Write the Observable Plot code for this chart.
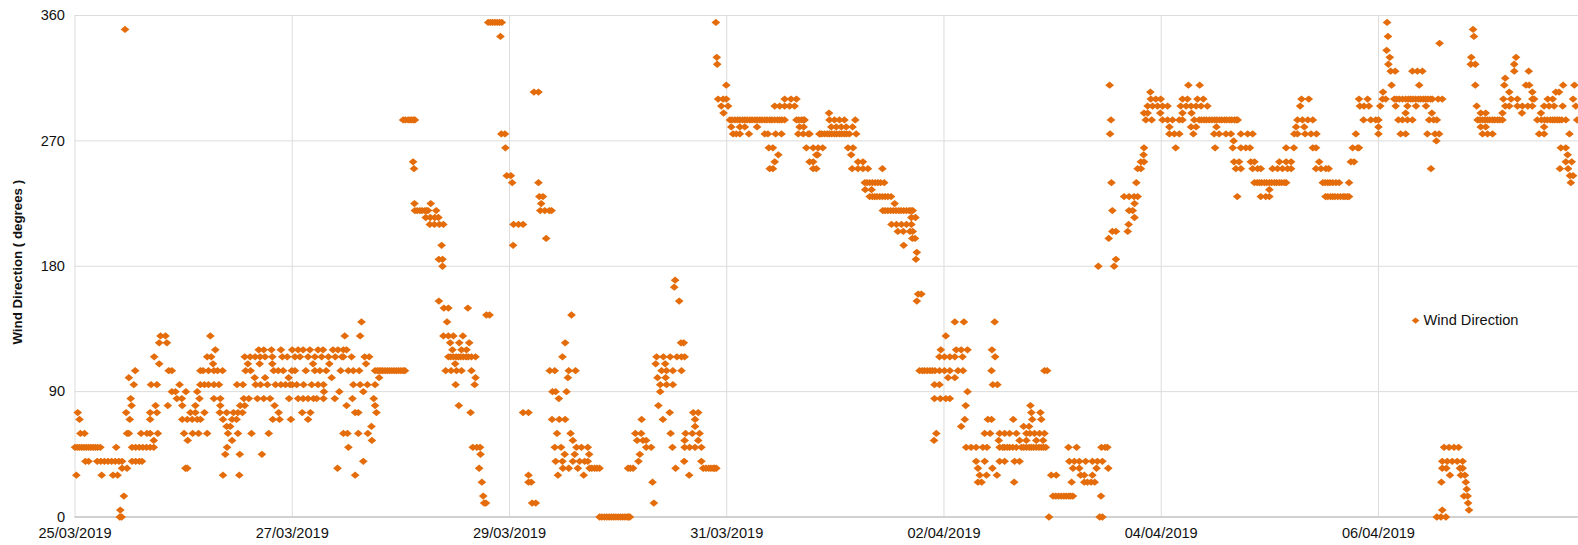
<!DOCTYPE html>
<html>
<head>
<meta charset="utf-8">
<script src="https://cdn.jsdelivr.net/npm/d3@7"></script>
<script src="https://cdn.jsdelivr.net/npm/@observablehq/plot@0.6"></script>
<style>html,body{margin:0;padding:0;background:#fff}svg{display:block}</style>
</head>
<body>
<div id="chart"></div>
<script>
// Each row: [wind direction in degrees, [hours since 25/03/2019 00:00]]
const periodA = [
[350,[11.05]],
[130,[18.9,20,29.9]],
[125,[18.6,20.3]],
[120,[31,40.6,41.7,43.4,45.5]],
[115,[17.5,29.2,30.1,37.5,38.7,39.8,40.9,42,43.6,45.8,46.9]],
[110,[18.6,30.5,38.2,40.8,43.6]],
[105,[13.3,20.7,21.4,27.7,28.3,29.5,30.7,31.5,32.6,37.7,38.8,43.9,44.9,46,47.9]],
[100,[11.9,39.7,42,47.2]],
[95,[13,16.8,18.1,23.1,27.7,28.6,29.5,30.7,31.8,35.8,37.1,39.9,41,42.5,44.3,45.5,46.5,47.5]],
[90,[21.4,22.2,24.5,27]],
[85,[12.3,22.5,23.6,27.5,30.7,32.1,37.3,38.4,40.3,41.7,43.1,47.3]],
[80,[12.5,17.8,20.5,23.7,26.6,32.1,36.5,37.5,44.1]],
[75,[0.6,11.3,16.6,18.1,25.5,26.6,28.6,32,33.5,35,36,37,45]],
[70,[1,12.1,16.6,23.7,24.8,25.9,27,27.7,32.7,34.7,35.7,43.7,45.2,47.7]],
[65,[33.5,34.3]],
[60,[1.2,2.1,11.5,11.9,14.6,15.9,16.6,18.3,24.1,26,27.3,29.2,33.8,36,39,42.8]],
[55,[17.4,24.9,34.7]],
[50,[0,0.5,1,1.5,2,2.5,3,3.5,4,4.5,5,5.6,9.1,12.6,13.4,14.2,15,15.8,16.6,17.4,33.6]],
[45,[33.2,36.4,41.3]],
[40,[2.3,3,4.9,5.7,6.5,7.3,8.1,8.9,9.7,10.4,12.6,13.4,14.2,14.8]],
[35,[10.4,11.5,24.4,24.8]],
[30,[0.3,5.9,8.4,9.4,32.7,36.3]],
[15,[10.8]],
[5,[10]],
[0,[9.9,10.3]]
];
const periodB = [
[355,[91.3,92.3,93.3,94.3]],
[345,[94]],
[305,[101.4,102.4]],
[285,[72.5,73.6,74.4,75.1]],
[275,[94.2,95]],
[265,[95.1]],
[255,[74.7]],
[250,[74.9]],
[245,[95.4,96.3]],
[240,[96.6,102.4]],
[230,[102.6,103.4]],
[225,[75,78.6,103]],
[220,[75.1,76.2,77.3,78,79.8,102.8,103.8,104.8,105.3]],
[215,[77.5,78.5,79.5,80.3]],
[210,[78.4,79.4,80.5,81.4,96.9,98,99]],
[200,[104.1]],
[195,[81,96.8]],
[185,[80.4,81.2]],
[180,[81.2]],
[155,[80.4]],
[150,[81.5,82.5,86.8]],
[145,[90.9,91.6]],
[140,[63.3,82.2]],
[130,[59.6,63,81.4,82.5,83.6,85.7]],
[125,[82.9,84.9,87.1]],
[120,[48,49.3,50.4,51.9,53.7,54.8,57,58.1,59.3,60,83.4,85.4,86.5]],
[115,[48.6,49.7,51.5,53,54.5,56,57.5,59,59.3,61.1,64,65,82.5,83.6,84.7,85.8,86.9,88.5]],
[110,[52.6,56.2,64.3,84]],
[105,[48.6,51,53,54.1,55.5,58.7,60.4,61.5,62.8,66.3,67.2,68,69,70,71,72,72.9,81.9,83.1,84.3,85.4,87.6]],
[100,[56.7,67.2,88.5]],
[95,[48,49,50.5,52.3,53.7,54.9,61.5,63,64.6,66.3,84.1,88.3]],
[90,[55,58.4,63.7]],
[85,[49.3,50.4,51.5,52.7,53.4,54.9,57.4,61.3,66]],
[80,[60,66.3,84.8]],
[75,[50.2,52,61.9,62.6,66.6,87.4,99,100.2]],
[70,[51.5]],
[65,[65.5]],
[60,[59.3,60.2,62.6,64.7]],
[55,[65.6]],
[50,[60.4,87.9,88.8,89.5]],
[45,[89.6]],
[40,[63.7]],
[35,[58,89.3]],
[30,[61.9,100.2]],
[25,[89.9,100.2,100.8]],
[15,[90.2]],
[10,[90.4,90.8,101,101.8]]
];
const periodC = [
[355,[141.6]],
[330,[141.8]],
[325,[141.9]],
[310,[143.9]],
[300,[142.1,143.2,143.9,156.8,158.2,159.4]],
[295,[142.8,144.3,154.6,155.7,156.8,157.9,159]],
[290,[143.3]],
[285,[144.7,145.8,146.9,148,149.1,150.2,151.3,152.4,153.5,154.6,155.7,156.8,159.4,160.5,161.2]],
[280,[145,146.9,148,150.7,160.1]],
[275,[145.4,146.1,146.9,148.9,152.4,153.1,154.8,156.1,159.8,160.9,162,164.6]],
[265,[153.3,154.2,161.6,163.1,164.2]],
[260,[155.4,163.8]],
[255,[154.6,162.3,163.1]],
[250,[153.5,154.2,163.1,163.8]],
[170,[132.6]],
[165,[132.4]],
[155,[133.5]],
[145,[109.7]],
[125,[108.3,133.9,134.5]],
[115,[107.7,128.5,130,131.5,133,134,134.7]],
[110,[128.3,130.4]],
[105,[104.9,106,109.1,110.6,129.6,130.7,132.1,134]],
[100,[108.9,128.7,130.5]],
[95,[129.3,130.7,132.1]],
[90,[105.5,106.2,108.6,129.3]],
[85,[106.9]],
[80,[128.9]],
[75,[131.4,136.6,137.7]],
[70,[105.4,107,108.3,125.2,129.9,137]],
[65,[137]],
[60,[106.5,109.5,123.8,125.1,131.6,134.9,136.4,138]],
[55,[110,124.2,125.5,126.2,134.7,137.7]],
[50,[106,107.4,110.8,111.9,113.3,126.2,127.3,132,134.7,135.8,137,138.4]],
[45,[108.2,110.4,113.6,124.8]],
[40,[106.2,107.7,110,111.5,112.6,113.3,124.5,134.6,138.4]],
[35,[107.8,109.1,111.1,113.7,114.8,115.9,122.2,123.3,132.7,138.8,140,141,141.7]],
[30,[106.7,112.4,135.7]],
[25,[127.6]],
[10,[127.9]],
[0,[115.9,117,118,119,120,121,122,122.6]]
];
const periodD = [
[290,[166.6]],
[285,[166.7,167.8,168.9,170,172.4]],
[280,[161,167.1,168.2,169.3,170.4,171.8]],
[275,[162.3,164.5,165.6,166.7,167.8,168.9,170,171.1,172.6]],
[265,[165.2,170.8,171.9]],
[260,[164.1,171.5]],
[255,[173,174.1]],
[250,[171.7,173,174.1,175.2,178.4]],
[240,[174.5,175.6,176.8,178,178.8]],
[235,[174.6,176]],
[230,[175.6,176.7,177.8,179,180.3]],
[225,[181.1]],
[220,[178.5,179.6,180.8,182,183.1,184.3,185.1]],
[215,[184.8,185.7]],
[210,[180.4,181.5,182.6,183.7,184.8]],
[205,[181.8,183,184.5,185.1]],
[200,[185,185.6]],
[195,[183.1]],
[190,[186]],
[185,[185.8]],
[160,[186.3,187]],
[155,[186]],
[140,[194.4,196.4,203.2]],
[130,[192.4]],
[120,[191.3,194.7,195.8,197.2,202.6]],
[115,[191,192.1,193.3,194.4,196.1,203.3]],
[105,[186.6,187.7,188.9,190,191,192.1,193.3,195.1,196.2,202.5,214.2,214.8]],
[100,[192.9,194.4]],
[95,[189.9,191,202.8,203.8]],
[90,[197.2]],
[85,[189.9,191.2,192.4,193.3]],
[80,[196.8,211.1]],
[75,[211.3,213.3]],
[70,[196.6,201.7,202.5,207.3,211.5,213.5]],
[65,[195.8,209.6,210.8]],
[60,[190.3,201,202.2,204.3,205.4,206.5,208,210.2,211,212,213.1,214.2]],
[55,[189.8,204.1,208.7,210.2,212.4,213.9]],
[50,[196.9,198,199.1,200.6,201.5,204.3,205.4,206.5,208,209.1,210.2,211.3,212.4,213.5,214.5]],
[40,[199.1,201,204.3,205.4,207.6,208.7]],
[35,[199.5,202.7]],
[30,[199.9,201.4,203.7,215.7,216.8]],
[25,[199.5,200.3,207.5]],
[15,[216.1,217.3,218.5,219.6,220.5]],
[0,[215.2]]
];
const periodE = [
[310,[228.6,246,248.5]],
[305,[237.6]],
[300,[237.7,238.8,239.9,244.7,245.8,248,249.3,271,272.6]],
[295,[237,238.1,239.2,240.3,241.4,244.3,245.5,246.6,247.7,248.8,250.2,270.7]],
[290,[236.2,237,239.8,244.7,246.7]],
[285,[228.9,236.6,237.9,240.3,241.4,242.5,244,244.7,247.3,248.4,249.5,250.6,251.8,252.9,254,255.1,256.2,256.9,270.1,271.2,272.4,273.5]],
[280,[241.8,246.6,247.7,252.2,269.8,271.6]],
[275,[228.7,241.8,242.9,244,247.1,251.7,252.8,254.3,255.4,257.6,259.1,260.2,269.4,270.1,271.8,273.1,274.3]],
[270,[256]],
[265,[236.2,243.2,251.9,255.8,257.6,258.7,259.6,267.6,269.3,273.5,274.2]],
[260,[236.1]],
[255,[235.5,236.2,256.1,257.2,259.8,260.6,266.1,267.6,268.7,274.9]],
[250,[234.8,235.5,256.5,257.6,260.2,261.3,262,264.6,265.7,266.8,267.9,268.7,274.2,275.3,276.4,277]],
[240,[229,234.5,260.6,261.7,262.8,263.9,265,266.1,267.2,267.6,275.7,276.8,277.9,279.3,281.5]],
[235,[263.9]],
[230,[231.8,232.9,234,234.8,256.8,262,263.1,263.9,276.8,277.9,279,280.2,281.1,281.5]],
[225,[234.1]],
[220,[229.2,232.9,233.7]],
[215,[234.1]],
[210,[232.8]],
[205,[229.2,230,232.6]],
[200,[228.4]],
[185,[230]],
[180,[226.1,229.6]],
[50,[219.5,221.3,226.8,227.6,228.1]],
[40,[219.7,220.8,221.9,223.3,224.8,225.9,227]],
[35,[220.5,221.9,225.7,228.3]],
[30,[222.2,223,224.8]],
[25,[220.2,223,223.7,224.5,225.3]],
[15,[226.7]],
[0,[226.4,227]]
];
const periodF = [
[355,[289.9]],
[350,[308.9]],
[345,[290.1,309.1]],
[340,[301.5]],
[335,[289.8]],
[330,[290.5,308.5,318.4]],
[325,[290.2,308.4,309.4,318]],
[320,[290.7,291.7,295.5,296.6,297.7,318,321.2]],
[315,[316]],
[310,[290.9,297,309.4,315.8,320.6,321.3,328.8,331.3]],
[305,[289,316.9,322,327.2,327.9]],
[300,[283.7,285.6,288.9,289.6,291.5,292.6,294,295.1,296.2,297.3,298.4,299.5,299.9,301.2,302.1,315.6,317.3,318.7,322,322.4,325.4,326.5,331]],
[295,[283.9,284.8,285.9,288.4,291.8,294.4,296.3,298.5,309.7,316,316.9,318.7,319.8,321,322,324.6,325.7,326.8,328.7,331.6]],
[290,[294,299.8,310.6,311.7,315.4,319.7,323.9]],
[285,[284.7,286.3,287.4,288,292.4,293.3,294.4,295.5,299.2,300.2,300.9,309.9,311,312.1,313.2,314.3,315.4,323.1,324.7,326,327,328,329.4,331.9]],
[280,[288,310.6,311.7,324.6]],
[275,[283,288,292.9,294,298.8,300.5,301.4,311,312.1,313.2,323.5,324.6,330.2]],
[270,[300.8]],
[265,[282.3,283.4,283.7,328.3,329.4]],
[260,[329.8]],
[255,[281.9,282.6,329.4,330.7]],
[250,[299.6,328.1,329.9]],
[245,[330.3,331]],
[240,[330.5]],
[50,[302.5,303.6,304.7,305.7]],
[40,[302.1,303.2,304.3,305.4,306.6]],
[35,[302.1,303,306,306.6]],
[30,[303.8,306.2,307.1]],
[25,[301.9,307.3]],
[20,[307.5]],
[15,[306.9,307.7]],
[10,[307.8]],
[5,[302.1,308]],
[0,[300.9,301.8,302.9]]
];
// Extra readings inside the stretches that read as solid bands
const solidBands = [
[355,[91.8,92.8,93.8]],
[285,[73,74,74.8,145.2,146.4,147.5,148.5,149.6,150.7,151.8,152.9,154,155.2,156.2,159.9,160.9,248.9,250,251.2,252.3,253.4,254.5,255.6,256.6,310.4,311.5,312.6,313.7,314.8,324,325.3,326.5,327.5,328.5]],
[300,[292,293.3,294.6,295.6,296.8,297.9,298.9]],
[275,[165,166.2,167.2,168.3,169.4,170.5]],
[240,[175,176.2,177.4,261.2,262.2,263.3,264.4,265.5,266.6,276.2,277.3,278.6]],
[230,[176.2,177.2,178.4,179.6,276.3,277.4,278.4,279.6,280.6]],
[220,[75.6,76.7,77.7,179,180.2,181.4,182.5,183.7,184.7]],
[115,[83,84.2,85.2,86.4,87.6]],
[105,[66.8,67.6,68.5,69.5,70.5,71.5,72.5,187.2,188.3,189.4]],
[50,[205,206,207.2,209.6,210.8,211.8,213,214]],
[35,[114.2,115.3,122.7,139.4,140.5,141.3]],
[15,[216.7,217.9,219,220]],
[0,[116.4,117.5,118.5,119.5,120.5,121.5,122.3]]
];

const yTicks = [0, 90, 180, 270, 360];
const xTickDates = ["2019-03-25","2019-03-27","2019-03-29","2019-03-31","2019-04-02","2019-04-04","2019-04-06"];
const lastHour = 332.2;
const seriesName = "Wind Direction";
const axisTitle = "Wind Direction ( degrees )";
const legendHour = 296.2, legendDir = 141;

const start = Date.UTC(2019, 2, 25);
const at = h => new Date(start + h * 3600e3);
const points = [periodA, periodB, periodC, periodD, periodE, periodF, solidBands]
  .flatMap(p => p.flatMap(([dir, hours]) => hours.map(h => ({t: at(h), dir}))));
const xTicks = xTickDates.map(d => new Date(d + "T00:00:00Z"));
const fmt = d3.utcFormat("%d/%m/%Y");
const orange = "#e46c0a";
// Spreadsheet-style marker: a diamond slightly wider than it is tall
const flatDiamond = {draw(ctx, size) {
  const s = Math.sqrt(size);
  const w = s * 0.6, h = s * 0.5;
  ctx.moveTo(-w, 0); ctx.lineTo(0, -h); ctx.lineTo(w, 0); ctx.lineTo(0, h); ctx.closePath();
}};

const chart = Plot.plot({
  width: 1578,
  height: 545,
  marginLeft: 74.5,
  marginRight: 0,
  marginTop: 15,
  marginBottom: 28.5,
  style: {fontFamily: "'Liberation Sans', Arial, sans-serif", fontSize: "14.6px", background: "#fff", overflow: "visible"},
  x: {type: "utc", domain: [at(0), at(lastHour)]},
  y: {domain: [0, 360]},
  marks: [
    Plot.ruleY(yTicks, {y: d => d, stroke: "#dcdcdc", strokeWidth: 1}),
    Plot.ruleX(xTicks, {x: d => d, stroke: "#dcdcdc", strokeWidth: 1}),
    Plot.ruleY([0], {stroke: "#b5b5b5", strokeWidth: 1}),
    Plot.axisY({ticks: yTicks, tickSize: 0, tickPadding: 10, label: null, tickFormat: d => d, fill: "#111"}),
    Plot.axisX({ticks: xTicks, tickSize: 0, tickPadding: 11, label: null, tickFormat: fmt, fill: "#111"}),
    Plot.text([axisTitle], {text: d => d, frameAnchor: "left", textAnchor: "middle", rotate: -90, dx: -57, dy: -4, fontWeight: "bold", fontSize: 13.3, fill: "#111"}),
    Plot.dot(points, {x: "t", y: "dir", symbol: flatDiamond, r: 4.1, fill: orange, stroke: "none"}),
    Plot.dot([0], {x: () => at(legendHour), y: () => legendDir, symbol: flatDiamond, r: 3.6, fill: orange, stroke: "none"}),
    Plot.text([seriesName], {x: () => at(legendHour), y: () => legendDir, text: d => d, textAnchor: "start", dx: 8, fontSize: 14.6, fill: "#111"})
  ]
});
document.getElementById("chart").appendChild(chart);
</script>
</body>
</html>
